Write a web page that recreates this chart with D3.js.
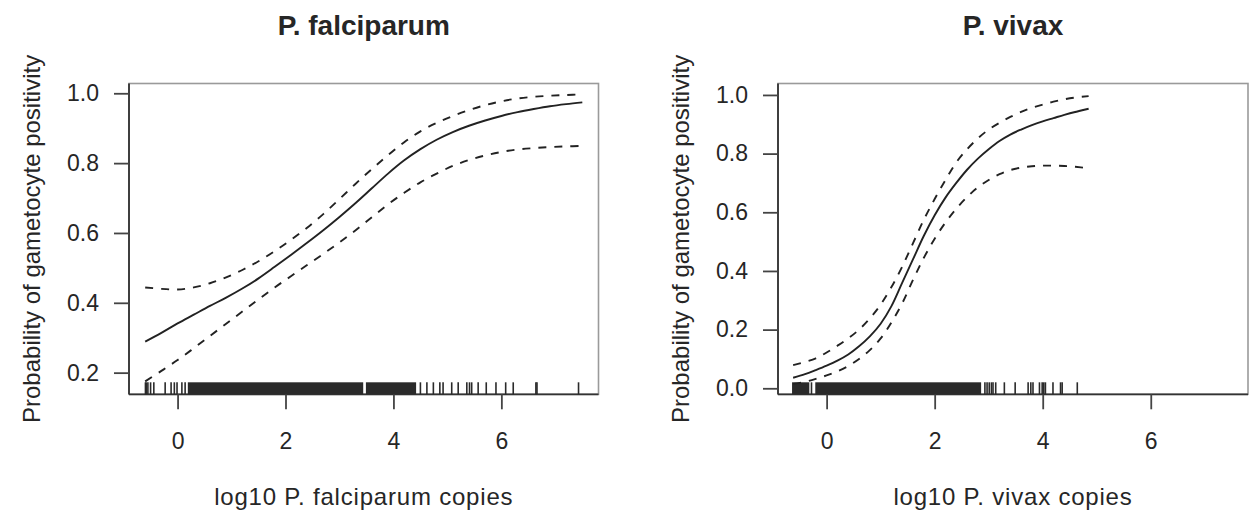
<!DOCTYPE html>
<html>
<head>
<meta charset="utf-8">
<script src="https://cdn.jsdelivr.net/npm/d3@7"></script>
<style>
  html, body { margin: 0; padding: 0; background: #fff; }
  svg { display: block; }
  text { font-family: "Liberation Sans", Arial, Helvetica, sans-serif; fill: #262626; }
</style>
</head>
<body>
<svg id="chart" width="1255" height="528"></svg>
<script>
// ---------------- DATA ----------------
const panelTitles = ["P. falciparum", "P. vivax"];
const xAxisTitles = ["log10 P. falciparum copies", "log10 P. vivax copies"];
const yAxisTitle = "Probability of gametocyte positivity";
const xTicks = [0, 2, 4, 6];
const yTicksFalci = [0.2, 0.4, 0.6, 0.8, 1.0];
const yTicksVivax = [0.0, 0.2, 0.4, 0.6, 0.8, 1.0];

// P. falciparum fitted probability and confidence band
const falciX     = [-0.6, -0.3, 0.0, 0.3, 0.6, 0.9, 1.2, 1.5, 1.8, 2.1, 2.4, 2.7, 3.0, 3.3, 3.6, 3.9, 4.2, 4.5, 4.8, 5.1, 5.4, 5.7, 6.0, 6.3, 6.6, 6.9, 7.2, 7.5];
const falciFit   = [0.289, 0.314, 0.341, 0.366, 0.391, 0.415, 0.441, 0.470, 0.503, 0.537, 0.572, 0.608, 0.646, 0.686, 0.728, 0.770, 0.808, 0.840, 0.867, 0.889, 0.907, 0.922, 0.935, 0.946, 0.955, 0.963, 0.969, 0.974];
const falciUpper = [0.444, 0.440, 0.438, 0.444, 0.456, 0.473, 0.494, 0.519, 0.548, 0.580, 0.615, 0.654, 0.697, 0.741, 0.783, 0.823, 0.860, 0.891, 0.915, 0.935, 0.952, 0.966, 0.977, 0.985, 0.990, 0.993, 0.995, 0.997];
const falciLower = [0.175, 0.205, 0.236, 0.270, 0.305, 0.340, 0.375, 0.410, 0.444, 0.476, 0.508, 0.540, 0.573, 0.608, 0.645, 0.682, 0.715, 0.745, 0.770, 0.792, 0.809, 0.822, 0.832, 0.839, 0.843, 0.846, 0.848, 0.849];

// P. vivax fitted probability and confidence band
const vivaxX     = [-0.62, -0.4, -0.2, 0.0, 0.2, 0.4, 0.6, 0.8, 1.0, 1.2, 1.4, 1.6, 1.8, 2.0, 2.2, 2.4, 2.6, 2.8, 3.0, 3.2, 3.4, 3.6, 3.8, 4.0, 4.2, 4.4, 4.6, 4.85];
const vivaxFit   = [0.036, 0.048, 0.062, 0.077, 0.094, 0.115, 0.143, 0.177, 0.220, 0.280, 0.360, 0.440, 0.520, 0.590, 0.650, 0.700, 0.745, 0.783, 0.815, 0.843, 0.865, 0.882, 0.897, 0.910, 0.921, 0.932, 0.942, 0.953];
const vivaxUpper = [0.079, 0.090, 0.102, 0.122, 0.145, 0.170, 0.200, 0.238, 0.285, 0.345, 0.415, 0.495, 0.575, 0.645, 0.710, 0.770, 0.815, 0.852, 0.882, 0.905, 0.925, 0.942, 0.956, 0.967, 0.977, 0.985, 0.991, 0.996];
const vivaxLower = [0.015, 0.022, 0.032, 0.044, 0.058, 0.076, 0.100, 0.130, 0.170, 0.225, 0.290, 0.370, 0.445, 0.510, 0.565, 0.612, 0.652, 0.685, 0.710, 0.730, 0.744, 0.752, 0.757, 0.759, 0.759, 0.758, 0.755, 0.750];

// Rug: densely packed observation ranges (solid blocks) and isolated observations
const falciRugBands = [[-0.61, -0.59], [0.19, 3.44], [3.49, 4.42]];
const falciRugTicks = [-0.58, -0.55, -0.50, -0.44, -0.23, -0.12, -0.06, -0.01, 0.08, 0.14, 4.50, 4.62, 4.74, 4.86, 4.92, 5.08, 5.20, 5.36, 5.41, 5.45, 5.57, 5.72, 5.90, 6.08, 6.22, 6.64, 6.66, 7.43];
const vivaxRugBands = [[-0.64, -0.32], [-0.21, 2.86]];
const vivaxRugTicks = [-0.28, 2.93, 2.97, 3.01, 3.05, 3.08, 3.13, 3.29, 3.49, 3.73, 3.78, 3.82, 3.94, 3.99, 4.02, 4.05, 4.19, 4.33, 4.36, 4.64];

// ---------------- DRAW ----------------
const svg = d3.select("#chart");
const ink = "#222";
const FONT = '"Liberation Sans", Arial, Helvetica, sans-serif';

const panels = [
  { x: [129, 598.5], y: [394.3, 83.5], yDomain: [0.138, 1.028], yTicks: yTicksFalci,
    X: falciX, fit: falciFit, up: falciUpper, lo: falciLower,
    bands: falciRugBands, ticks: falciRugTicks, title: panelTitles[0], xTitle: xAxisTitles[0] },
  { x: [778, 1248], y: [394.3, 83.5], yDomain: [-0.0205, 1.039], yTicks: yTicksVivax,
    X: vivaxX, fit: vivaxFit, up: vivaxUpper, lo: vivaxLower,
    bands: vivaxRugBands, ticks: vivaxRugTicks, title: panelTitles[1], xTitle: xAxisTitles[1] }
];

panels.forEach(p => {
  const xs = d3.scaleLinear().domain([-0.9, 7.8]).range(p.x);
  const ys = d3.scaleLinear().domain(p.yDomain).range(p.y);
  const g = svg.append("g");

  // box
  g.append("rect")
    .attr("x", p.x[0]).attr("y", p.y[1])
    .attr("width", p.x[1] - p.x[0]).attr("height", p.y[0] - p.y[1])
    .attr("fill", "none").attr("stroke", "#9a9a9a").attr("stroke-width", 1.6);

  // axes
  const xAxis = d3.axisBottom(xs).tickValues(xTicks).tickSize(15).tickPadding(23).tickFormat(d3.format("d"));
  const gx = g.append("g").attr("transform", `translate(0,${p.y[0]})`).call(xAxis);
  const yAxis = d3.axisLeft(ys).tickValues(p.yTicks).tickSize(15).tickPadding(15).tickFormat(d3.format(".1f"));
  const gy = g.append("g").attr("transform", `translate(${p.x[0]},0)`).call(yAxis);
  [gx, gy].forEach(a => {
    a.select(".domain").attr("stroke", "#333").attr("stroke-width", 1.8);
    a.selectAll(".tick line").attr("stroke", "#444").attr("stroke-width", 1.8);
    a.selectAll(".tick text").attr("font-size", 23).attr("fill", "#262626")
      .style("font-family", FONT);
  });
  gx.select(".domain").attr("d", `M${p.x[0]},0H${p.x[1]}`);
  gy.select(".domain").attr("d", `M0,${p.y[0]}V${p.y[1]}`);

  // rug
  const rugH = 12;
  g.selectAll(".band").data(p.bands).enter().append("rect")
    .attr("x", d => xs(d[0])).attr("width", d => Math.max(1.5, xs(d[1]) - xs(d[0])))
    .attr("y", p.y[0] - rugH).attr("height", rugH)
    .attr("fill", "#2a2a2a");
  g.selectAll(".rt").data(p.ticks).enter().append("line")
    .attr("x1", d => xs(d)).attr("x2", d => xs(d))
    .attr("y1", p.y[0]).attr("y2", p.y[0] - rugH)
    .attr("stroke", "#2a2a2a").attr("stroke-width", 1.6);

  // curves
  const line = d3.line().x(d => xs(d[0])).y(d => ys(d[1])).curve(d3.curveCatmullRom);
  const mk = arr => p.X.map((x, i) => [x, arr[i]]);
  g.append("path").attr("d", line(mk(p.up))).attr("fill", "none")
    .attr("stroke", ink).attr("stroke-width", 1.9).attr("stroke-dasharray", "8,8");
  g.append("path").attr("d", line(mk(p.lo))).attr("fill", "none")
    .attr("stroke", ink).attr("stroke-width", 1.9).attr("stroke-dasharray", "8,8");
  g.append("path").attr("d", line(mk(p.fit))).attr("fill", "none")
    .attr("stroke", ink).attr("stroke-width", 1.9);

  const cx = (p.x[0] + p.x[1]) / 2;
  // title
  g.append("text").attr("x", cx).attr("y", 35).attr("text-anchor", "middle")
    .attr("font-size", 28).attr("font-weight", "bold").text(p.title);
  // x title
  g.append("text").attr("x", cx).attr("y", 505).attr("text-anchor", "middle")
    .attr("font-size", 24).attr("letter-spacing", 0.8).text(p.xTitle);
  // y title
  const yx = p.x[0] - 89;
  g.append("text").attr("transform", `translate(${yx},${(p.y[0] + p.y[1]) / 2}) rotate(-90)`)
    .attr("text-anchor", "middle").attr("font-size", 24).text(yAxisTitle);
});
</script>
</body>
</html>
